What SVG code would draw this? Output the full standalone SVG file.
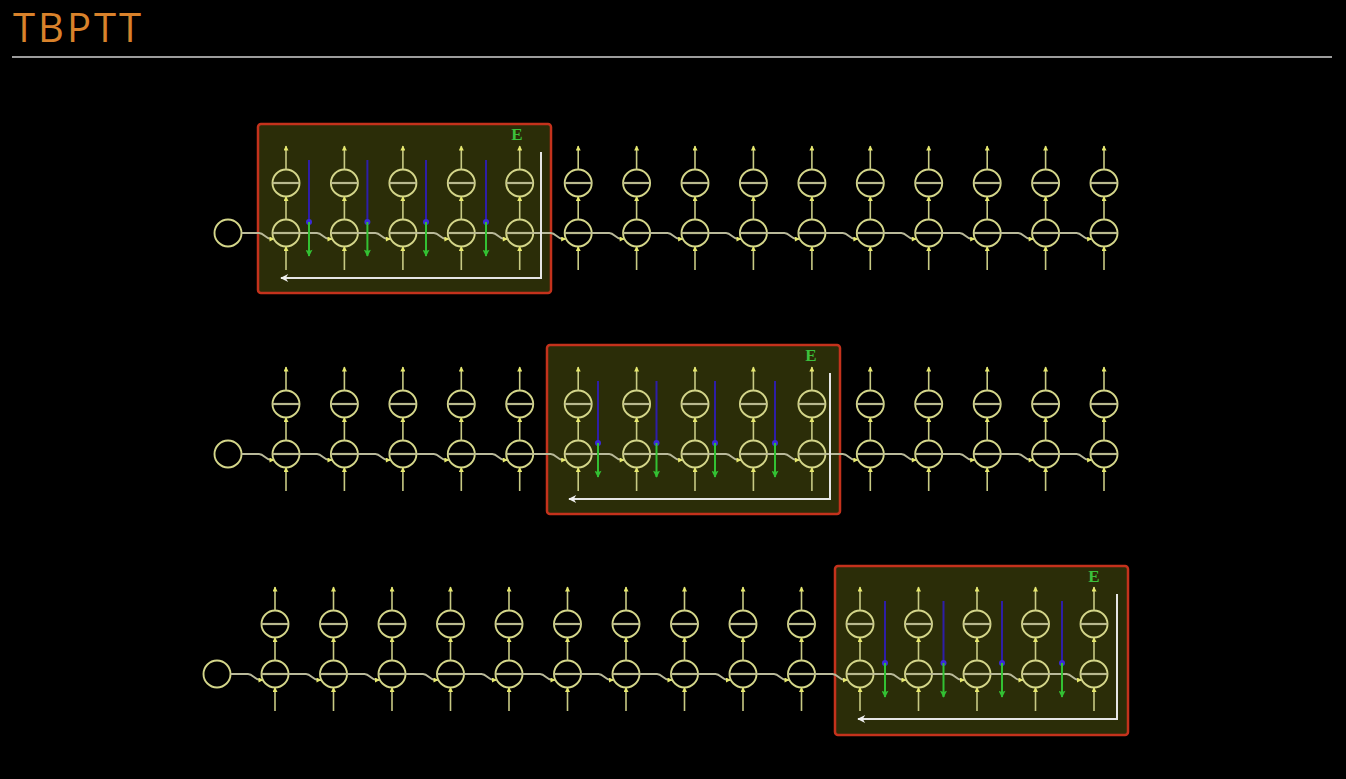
<svg xmlns="http://www.w3.org/2000/svg" width="1346" height="779" viewBox="0 0 1346 779">
<style>
.cir{fill:none;stroke:#d4d68a;stroke-width:1.9}
.bar{stroke:#b9b98f;stroke-width:2.2}
.ya{fill:none;stroke:#c8ca84;stroke-width:1.6;marker-end:url(#ay)}
.hc{fill:none;stroke:#b9b99a;stroke-width:1.8;marker-end:url(#ay)}
.box{fill:#2b2d08;stroke:#c4321c;stroke-width:2.5}
.blue{stroke:#2e1ea8;stroke-width:2}
.green{stroke:#33c033;stroke-width:2;marker-end:url(#ag)}
.wl{fill:none;stroke:#e6e6e6;stroke-width:2;marker-end:url(#aw)}
.E{font-family:"Liberation Serif",serif;font-size:17px;font-weight:bold;fill:#3cc03c;text-anchor:middle}
</style>
<defs>
<marker id="ay" viewBox="0 0 10 10" refX="9" refY="5" markerWidth="6" markerHeight="5" markerUnits="userSpaceOnUse" orient="auto"><path d="M0,0 L10,5 L0,10 z" fill="#e6e86c"/></marker>
<marker id="ag" viewBox="0 0 10 10" refX="9" refY="5" markerWidth="8" markerHeight="7" markerUnits="userSpaceOnUse" orient="auto"><path d="M0,0 L10,5 L0,10 L2,5 z" fill="#33c033"/></marker>
<marker id="aw" viewBox="0 0 10 10" refX="9" refY="5" markerWidth="12" markerHeight="8" markerUnits="userSpaceOnUse" orient="auto"><path d="M0,0 L10,5 L0,10 L3,5 z" fill="#f0f0f0"/></marker>
<g id="cellN">
<circle class="cir" cx="0" cy="-50" r="13.5"/>
<line class="bar" x1="-13.5" y1="-50" x2="13.5" y2="-50"/>
<circle class="cir" cx="0" cy="0" r="13.5"/>
<line class="bar" x1="-13.5" y1="0" x2="13.5" y2="0"/>
</g>
<g id="cellV">
<line class="ya" x1="0" y1="-63.5" x2="0" y2="-87"/>
<line class="ya" x1="0" y1="-13.5" x2="0" y2="-36.5"/>
<line class="ya" x1="0" y1="37" x2="0" y2="13.5"/>
</g>
<path id="hconn" class="hc" d="M13.5,0 H31 C36,0 38,6 43,6 H46"/>
<g id="bg">
<line class="blue" x1="0" y1="-73" x2="0" y2="-11"/>
<circle cx="0" cy="-11" r="3" fill="#3a2ad8"/>
<line class="green" x1="0" y1="-11" x2="0" y2="23"/>
</g>
</defs>
<rect width="1346" height="779" fill="#000"/>
<text x="13" y="42" font-family="'Open Sans',sans-serif" font-size="40" fill="#d9822b" textLength="128" lengthAdjust="spacing">TBPTT</text>
<line x1="12" y1="57" x2="1332" y2="57" stroke="#d0d0d0" stroke-width="1.5"/>

<g id="boxes">
<rect class="box" x="258" y="124" width="293" height="169" rx="3"/>
<text class="E" x="517" y="140">E</text>
<rect class="box" x="547" y="345" width="293" height="169" rx="3"/>
<text class="E" x="811" y="361">E</text>
<rect class="box" x="835" y="566" width="293" height="169" rx="3"/>
<text class="E" x="1094" y="582">E</text>
</g>

<g id="row1">
<g id="r1init"><circle class="cir" cx="228" cy="233" r="13.5"/></g>
<g id="r1n0"><use href="#cellN" x="286" y="233"/></g>
<g id="r1n1"><use href="#cellN" x="344.4" y="233"/></g>
<g id="r1n2"><use href="#cellN" x="402.9" y="233"/></g>
<g id="r1n3"><use href="#cellN" x="461.3" y="233"/></g>
<g id="r1n4"><use href="#cellN" x="519.7" y="233"/></g>
<g id="r1n5"><use href="#cellN" x="578.2" y="233"/></g>
<g id="r1n6"><use href="#cellN" x="636.6" y="233"/></g>
<g id="r1n7"><use href="#cellN" x="695" y="233"/></g>
<g id="r1n8"><use href="#cellN" x="753.4" y="233"/></g>
<g id="r1n9"><use href="#cellN" x="811.9" y="233"/></g>
<g id="r1n10"><use href="#cellN" x="870.3" y="233"/></g>
<g id="r1n11"><use href="#cellN" x="928.7" y="233"/></g>
<g id="r1n12"><use href="#cellN" x="987.2" y="233"/></g>
<g id="r1n13"><use href="#cellN" x="1045.6" y="233"/></g>
<g id="r1n14"><use href="#cellN" x="1104" y="233"/></g>
</g>

<g id="row2">
<g id="r2init"><circle class="cir" cx="228" cy="454" r="13.5"/></g>
<g id="r2n0"><use href="#cellN" x="286" y="454"/></g>
<g id="r2n1"><use href="#cellN" x="344.4" y="454"/></g>
<g id="r2n2"><use href="#cellN" x="402.9" y="454"/></g>
<g id="r2n3"><use href="#cellN" x="461.3" y="454"/></g>
<g id="r2n4"><use href="#cellN" x="519.7" y="454"/></g>
<g id="r2n5"><use href="#cellN" x="578.2" y="454"/></g>
<g id="r2n6"><use href="#cellN" x="636.6" y="454"/></g>
<g id="r2n7"><use href="#cellN" x="695" y="454"/></g>
<g id="r2n8"><use href="#cellN" x="753.4" y="454"/></g>
<g id="r2n9"><use href="#cellN" x="811.9" y="454"/></g>
<g id="r2n10"><use href="#cellN" x="870.3" y="454"/></g>
<g id="r2n11"><use href="#cellN" x="928.7" y="454"/></g>
<g id="r2n12"><use href="#cellN" x="987.2" y="454"/></g>
<g id="r2n13"><use href="#cellN" x="1045.6" y="454"/></g>
<g id="r2n14"><use href="#cellN" x="1104" y="454"/></g>
</g>

<g id="row3">
<g id="r3init"><circle class="cir" cx="217" cy="674" r="13.5"/></g>
<g id="r3n0"><use href="#cellN" x="275" y="674"/></g>
<g id="r3n1"><use href="#cellN" x="333.5" y="674"/></g>
<g id="r3n2"><use href="#cellN" x="392" y="674"/></g>
<g id="r3n3"><use href="#cellN" x="450.5" y="674"/></g>
<g id="r3n4"><use href="#cellN" x="509" y="674"/></g>
<g id="r3n5"><use href="#cellN" x="567.5" y="674"/></g>
<g id="r3n6"><use href="#cellN" x="626" y="674"/></g>
<g id="r3n7"><use href="#cellN" x="684.5" y="674"/></g>
<g id="r3n8"><use href="#cellN" x="743" y="674"/></g>
<g id="r3n9"><use href="#cellN" x="801.5" y="674"/></g>
<g id="r3n10"><use href="#cellN" x="860" y="674"/></g>
<g id="r3n11"><use href="#cellN" x="918.5" y="674"/></g>
<g id="r3n12"><use href="#cellN" x="977" y="674"/></g>
<g id="r3n13"><use href="#cellN" x="1035.5" y="674"/></g>
<g id="r3n14"><use href="#cellN" x="1094" y="674"/></g>
</g>

<g id="connectors">
<!-- row 1 -->
<use href="#hconn" x="228" y="233"/>
<use href="#cellV" x="286" y="233"/><use href="#hconn" x="286" y="233"/>
<use href="#cellV" x="344.4" y="233"/><use href="#hconn" x="344.4" y="233"/>
<use href="#cellV" x="402.9" y="233"/><use href="#hconn" x="402.9" y="233"/>
<use href="#cellV" x="461.3" y="233"/><use href="#hconn" x="461.3" y="233"/>
<use href="#cellV" x="519.7" y="233"/><use href="#hconn" x="519.7" y="233"/>
<use href="#cellV" x="578.2" y="233"/><use href="#hconn" x="578.2" y="233"/>
<use href="#cellV" x="636.6" y="233"/><use href="#hconn" x="636.6" y="233"/>
<use href="#cellV" x="695" y="233"/><use href="#hconn" x="695" y="233"/>
<use href="#cellV" x="753.4" y="233"/><use href="#hconn" x="753.4" y="233"/>
<use href="#cellV" x="811.9" y="233"/><use href="#hconn" x="811.9" y="233"/>
<use href="#cellV" x="870.3" y="233"/><use href="#hconn" x="870.3" y="233"/>
<use href="#cellV" x="928.7" y="233"/><use href="#hconn" x="928.7" y="233"/>
<use href="#cellV" x="987.2" y="233"/><use href="#hconn" x="987.2" y="233"/>
<use href="#cellV" x="1045.6" y="233"/><use href="#hconn" x="1045.6" y="233"/>
<use href="#cellV" x="1104" y="233"/>
<use href="#bg" x="309" y="233"/><use href="#bg" x="367.4" y="233"/><use href="#bg" x="426" y="233"/><use href="#bg" x="486" y="233"/>
<path class="wl" d="M541,152 V278 H281"/>
<!-- row 2 -->
<use href="#hconn" x="228" y="454"/>
<use href="#cellV" x="286" y="454"/><use href="#hconn" x="286" y="454"/>
<use href="#cellV" x="344.4" y="454"/><use href="#hconn" x="344.4" y="454"/>
<use href="#cellV" x="402.9" y="454"/><use href="#hconn" x="402.9" y="454"/>
<use href="#cellV" x="461.3" y="454"/><use href="#hconn" x="461.3" y="454"/>
<use href="#cellV" x="519.7" y="454"/><use href="#hconn" x="519.7" y="454"/>
<use href="#cellV" x="578.2" y="454"/><use href="#hconn" x="578.2" y="454"/>
<use href="#cellV" x="636.6" y="454"/><use href="#hconn" x="636.6" y="454"/>
<use href="#cellV" x="695" y="454"/><use href="#hconn" x="695" y="454"/>
<use href="#cellV" x="753.4" y="454"/><use href="#hconn" x="753.4" y="454"/>
<use href="#cellV" x="811.9" y="454"/><use href="#hconn" x="811.9" y="454"/>
<use href="#cellV" x="870.3" y="454"/><use href="#hconn" x="870.3" y="454"/>
<use href="#cellV" x="928.7" y="454"/><use href="#hconn" x="928.7" y="454"/>
<use href="#cellV" x="987.2" y="454"/><use href="#hconn" x="987.2" y="454"/>
<use href="#cellV" x="1045.6" y="454"/><use href="#hconn" x="1045.6" y="454"/>
<use href="#cellV" x="1104" y="454"/>
<use href="#bg" x="598" y="454"/><use href="#bg" x="656.5" y="454"/><use href="#bg" x="715" y="454"/><use href="#bg" x="775" y="454"/>
<path class="wl" d="M830,373 V499 H569"/>
<!-- row 3 -->
<use href="#hconn" x="217" y="674"/>
<use href="#cellV" x="275" y="674"/><use href="#hconn" x="275" y="674"/>
<use href="#cellV" x="333.5" y="674"/><use href="#hconn" x="333.5" y="674"/>
<use href="#cellV" x="392" y="674"/><use href="#hconn" x="392" y="674"/>
<use href="#cellV" x="450.5" y="674"/><use href="#hconn" x="450.5" y="674"/>
<use href="#cellV" x="509" y="674"/><use href="#hconn" x="509" y="674"/>
<use href="#cellV" x="567.5" y="674"/><use href="#hconn" x="567.5" y="674"/>
<use href="#cellV" x="626" y="674"/><use href="#hconn" x="626" y="674"/>
<use href="#cellV" x="684.5" y="674"/><use href="#hconn" x="684.5" y="674"/>
<use href="#cellV" x="743" y="674"/><use href="#hconn" x="743" y="674"/>
<use href="#cellV" x="801.5" y="674"/><use href="#hconn" x="801.5" y="674"/>
<use href="#cellV" x="860" y="674"/><use href="#hconn" x="860" y="674"/>
<use href="#cellV" x="918.5" y="674"/><use href="#hconn" x="918.5" y="674"/>
<use href="#cellV" x="977" y="674"/><use href="#hconn" x="977" y="674"/>
<use href="#cellV" x="1035.5" y="674"/><use href="#hconn" x="1035.5" y="674"/>
<use href="#cellV" x="1094" y="674"/>
<use href="#bg" x="885" y="674"/><use href="#bg" x="943.5" y="674"/><use href="#bg" x="1002" y="674"/><use href="#bg" x="1062" y="674"/>
<path class="wl" d="M1117,594 V719 H858"/>
</g>
</svg>
